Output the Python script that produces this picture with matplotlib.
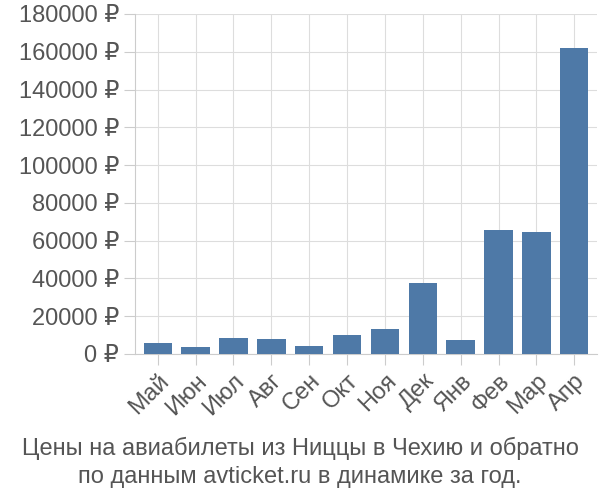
import matplotlib.pyplot as plt

months = ["Май", "Июн", "Июл", "Авг", "Сен", "Окт", "Ноя", "Дек", "Янв", "Фев", "Мар", "Апр"]
prices = [6000, 3500, 8500, 8200, 4500, 10000, 13000, 37500, 7500, 65500, 64500, 162000]
yticks = list(range(0, 180001, 20000))

plt.rcParams["font.family"] = ["Liberation Sans", "DejaVu Sans"]
fig = plt.figure(figsize=(6, 5), dpi=100)
ax = fig.add_axes([0.225, 0.292, 0.77, 0.68])

ax.bar(range(len(months)), prices, width=0.75, color="#4e79a7", zorder=3)
ax.set_xlim(-0.6, len(months) - 0.4)
ax.set_ylim(0, 180000)
ax.set_yticks(yticks)
ax.set_yticklabels([f"{v} ₽" for v in yticks], fontsize=17, color="#555555")
ax.set_xticks(range(len(months)))
ax.set_xticklabels(months, rotation=45, ha="right", rotation_mode="anchor", fontsize=17, color="#555555")
ax.tick_params(axis="both", length=8, color="#cccccc")
ax.grid(True, color="#dddddd", zorder=0)
for s in ["top", "right"]:
    ax.spines[s].set_visible(False)
ax.spines["left"].set_color("#cccccc")
ax.spines["bottom"].set_color("#cccccc")

fig.text(0.5, 0.09, "Цены на авиабилеты из Ниццы в Чехию и обратно", ha="center", fontsize=17, color="#555555")
fig.text(0.5, 0.033, "по данным avticket.ru в динамике за год.", ha="center", fontsize=17, color="#555555")

fig.savefig("out.png")
